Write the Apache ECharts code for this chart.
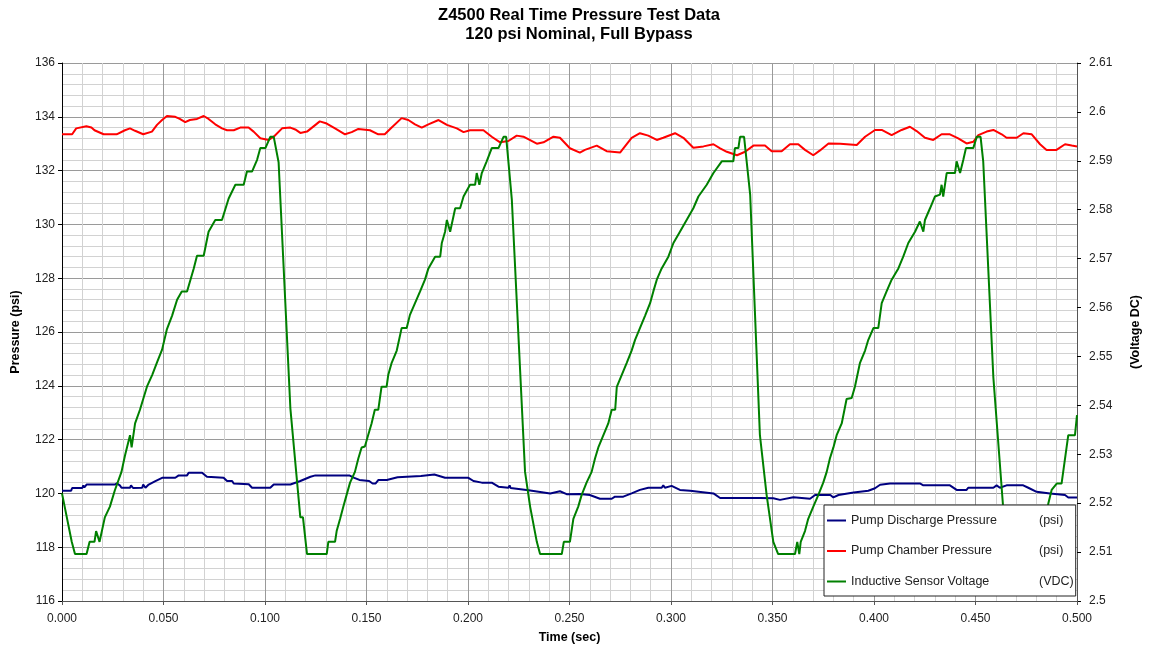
<!DOCTYPE html>
<html>
<head>
<meta charset="utf-8">
<script src="https://cdn.jsdelivr.net/npm/echarts@6/dist/echarts.min.js"></script>
<style>
html,body{margin:0;padding:0;background:#fff;}
#chart{width:1149px;height:646px;}
</style>
</head>
<body>
<div id="chart"></div>
<script>
// ---- Data ----
const seriesNames = ['Pump Discharge Pressure', 'Pump Chamber Pressure', 'Inductive Sensor Voltage'];
const seriesUnits = ['(psi)', '(psi)', '(VDC)'];
const xTickLabels = ['0.000','0.050','0.100','0.150','0.200','0.250','0.300','0.350','0.400','0.450','0.500'];

// Pump Discharge Pressure (psi)
const dischargeTime = [0,0.0045,0.005,0.0100,0.0105,0.011,0.0121,0.026,0.027,0.0285,0.0293,0.0335,0.034,0.035,0.0395,0.040,0.0411,0.0427,0.046,0.0493,0.0558,0.0575,0.0616,0.0624,0.069,0.0714,0.0796,0.0813,0.0838,0.0846,0.092,0.0936,0.1026,0.1043,0.1125,0.1174,0.1224,0.1248,0.1415,0.144,0.1465,0.1513,0.153,0.1545,0.1559,0.16,0.1653,0.1768,0.1834,0.1887,0.2002,0.2027,0.2068,0.2117,0.215,0.2199,0.2205,0.221,0.2298,0.2405,0.2453,0.2486,0.255,0.26,0.265,0.2708,0.2724,0.2765,0.2806,0.2847,0.2888,0.2954,0.2962,0.297,0.3003,0.3044,0.3094,0.3209,0.3242,0.3438,0.3504,0.3537,0.3603,0.3685,0.371,0.3785,0.38,0.3825,0.39,0.3972,0.4005,0.403,0.4079,0.4226,0.4243,0.4374,0.4407,0.4456,0.4464,0.4588,0.4604,0.4620,0.4653,0.4735,0.476,0.4801,0.4867,0.4941,0.4957,0.5];
const dischargePsi = [120.1,120.1,120.2,120.2,120.3,120.22,120.33,120.33,120.37,120.3,120.21,120.21,120.3,120.2,120.21,120.33,120.21,120.33,120.46,120.58,120.58,120.67,120.67,120.77,120.77,120.62,120.58,120.46,120.46,120.37,120.34,120.21,120.21,120.33,120.33,120.46,120.62,120.67,120.67,120.58,120.5,120.46,120.37,120.37,120.5,120.5,120.6,120.65,120.7,120.58,120.58,120.46,120.4,120.4,120.25,120.21,120.3,120.2,120.12,120.0,120.08,119.97,119.98,119.94,119.8,119.8,119.88,119.88,120.0,120.13,120.21,120.21,120.3,120.21,120.28,120.13,120.1,120.0,119.83,119.83,119.82,119.76,119.86,119.8,119.94,119.94,119.85,119.94,120.03,120.1,120.19,120.32,120.37,120.37,120.3,120.3,120.13,120.13,120.21,120.21,120.3,120.21,120.3,120.3,120.21,120.06,120.0,119.94,119.85,119.85];

// Pump Chamber Pressure (psi)
const chamberTime = [0,0.005,0.007,0.012,0.0145,0.016,0.0205,0.0269,0.031,0.0335,0.036,0.04,0.0443,0.0468,0.0493,0.0517,0.0558,0.058,0.0607,0.063,0.0665,0.0698,0.0722,0.0755,0.0788,0.0813,0.0846,0.0878,0.0919,0.0944,0.0977,0.1018,0.1043,0.1084,0.1125,0.1149,0.1174,0.1207,0.127,0.1304,0.1345,0.1394,0.1427,0.146,0.1517,0.1558,0.159,0.1624,0.1673,0.1706,0.1739,0.1772,0.1805,0.1855,0.1896,0.1945,0.1978,0.201,0.2076,0.2117,0.2158,0.2199,0.224,0.2273,0.2339,0.2372,0.2421,0.2453,0.2502,0.2551,0.2576,0.2634,0.2683,0.2749,0.2806,0.2847,0.2888,0.293,0.2962,0.302,0.3061,0.311,0.316,0.3209,0.3242,0.3275,0.3325,0.3365,0.3406,0.3463,0.3496,0.3545,0.3586,0.3627,0.366,0.3701,0.3734,0.3776,0.3833,0.3915,0.3956,0.4005,0.4038,0.4087,0.4136,0.4177,0.421,0.4251,0.4292,0.4333,0.4374,0.4415,0.4456,0.4489,0.4514,0.4555,0.4588,0.4629,0.4653,0.4703,0.4736,0.4777,0.4818,0.485,0.4899,0.4941,0.4974,0.5];
const chamberPsi = [133.35,133.35,133.57,133.65,133.6,133.5,133.35,133.35,133.5,133.57,133.48,133.35,133.45,133.7,133.88,134.03,134.0,133.92,133.8,133.88,133.92,134.03,133.92,133.72,133.57,133.5,133.5,133.6,133.6,133.45,133.2,133.14,133.26,133.57,133.6,133.53,133.4,133.45,133.83,133.75,133.57,133.35,133.43,133.55,133.5,133.35,133.35,133.6,133.95,133.88,133.72,133.6,133.72,133.88,133.7,133.57,133.43,133.5,133.5,133.26,133.05,133.1,133.3,133.26,133.0,133.05,133.26,133.22,132.83,132.67,132.77,132.93,132.72,132.67,133.22,133.39,133.3,133.14,133.22,133.39,133.22,132.85,132.9,132.98,132.83,132.7,132.57,132.7,132.93,132.93,132.72,132.72,132.98,132.98,132.77,132.57,132.75,133.01,133.0,132.95,133.26,133.51,133.51,133.32,133.51,133.63,133.47,133.22,133.14,133.35,133.35,133.2,133.01,133.07,133.32,133.45,133.51,133.35,133.22,133.22,133.39,133.35,132.98,132.77,132.77,132.98,132.93,132.9];

// Inductive Sensor Voltage (VDC)
const sensorTime = [0,0.0048,0.0064,0.0121,0.0136,0.016,0.0168,0.0185,0.0211,0.0236,0.026,0.0293,0.031,0.0335,0.0343,0.036,0.0384,0.040,0.042,0.0444,0.047,0.0493,0.0517,0.0542,0.0567,0.059,0.0616,0.0649,0.0665,0.0698,0.0722,0.0755,0.0788,0.0821,0.0854,0.0895,0.0911,0.0936,0.0961,0.0977,0.1002,0.1026,0.1043,0.1067,0.1125,0.1174,0.1187,0.1207,0.1304,
 0.1312,0.1345,0.1353,0.137,0.1386,0.1402,0.1419,0.1443,0.146,0.1476,0.1492,0.1508,0.1525,0.1541,0.1558,0.1574,0.1599,0.1607,0.1624,0.1649,0.1673,0.1698,0.1714,0.1739,0.1764,0.1788,0.1805,0.1838,0.1863,0.1871,0.1887,0.1896,0.1912,0.1937,0.1961,0.1978,0.201,0.2035,0.2043,0.2056,0.2068,0.2092,0.2117,0.215,0.2175,0.2188,0.2216,0.2281,0.2306,0.2339,0.2355,0.2462,0.2472,
 0.2502,0.2519,0.2543,0.256,0.2584,0.2609,0.2626,0.2642,0.2667,0.2691,0.2708,0.2725,0.2733,0.2757,0.2782,0.2806,0.2823,0.2847,0.2872,0.2897,0.2913,0.293,0.2954,0.2987,0.3012,0.3044,0.3077,0.311,0.3135,0.3176,0.3209,0.325,0.3307,0.3315,0.3332,0.334,0.336,0.339,0.3438,0.3471,0.3504,0.3528,0.3611,0.3622,0.3632,0.3639,0.366,0.3676,0.3701,0.3726,
 0.375,0.3767,0.3783,0.38,0.3816,0.3841,0.3865,0.389,0.3906,0.3931,0.3956,0.3972,0.3997,0.4021,0.4038,0.4062,0.4087,0.412,0.4144,0.4169,0.4202,0.4226,0.4243,0.4251,0.4276,0.43,0.4325,0.4333,0.4341,0.4358,0.4399,0.4407,0.4424,0.444,0.4453,0.4489,0.4506,0.4525,0.4538,0.4588,0.4637,0.4665,0.4815,0.483,0.4859,0.4875,0.49,0.4924,0.4957,0.499,0.5];
const sensorVdc = [2.522,2.5121,2.5096,2.5096,2.5121,2.5121,2.5143,2.5121,2.5171,2.5193,2.5226,2.5264,2.5297,2.5339,2.5314,2.5363,2.5391,2.5413,2.544,2.5462,2.549,2.5514,2.5556,2.5583,2.5616,2.5633,2.5633,2.568,2.5706,2.5706,2.5755,2.5779,2.5779,2.5823,2.5851,2.5851,2.5878,2.5878,2.5902,2.5926,2.5926,2.5949,2.5949,2.5897,2.5394,2.5171,2.5171,2.5096,2.5096,
 2.5121,2.5121,2.5143,2.5168,2.5193,2.5217,2.5242,2.5264,2.5292,2.5314,2.5316,2.5339,2.5363,2.5391,2.5391,2.5438,2.5438,2.5462,2.5487,2.5512,2.5558,2.5558,2.5585,2.5609,2.5633,2.5657,2.568,2.5704,2.5704,2.5732,2.5755,2.5779,2.5755,2.5803,2.5803,2.5827,2.5851,2.5851,2.5875,2.5851,2.5875,2.5899,2.5926,2.5926,2.5949,2.5949,2.582,2.5264,2.5193,2.5121,2.5096,2.5096,2.5121,
 2.5121,2.5168,2.5193,2.5217,2.5242,2.5264,2.5292,2.5314,2.5339,2.5363,2.5391,2.5391,2.5438,2.5462,2.5487,2.5512,2.5534,2.5558,2.5583,2.5609,2.5633,2.5657,2.568,2.5704,2.5732,2.5755,2.5779,2.5803,2.5827,2.5851,2.5875,2.5899,2.5899,2.5926,2.5926,2.5949,2.5949,2.5831,2.5339,2.5217,2.5121,2.5096,2.5096,2.5121,2.5096,2.5121,2.5143,2.5168,2.5193,2.5217,
 2.5242,2.5264,2.5292,2.5314,2.5339,2.5363,2.5413,2.5415,2.5438,2.5487,2.5512,2.5534,2.5558,2.5558,2.5609,2.5633,2.5657,2.568,2.5704,2.5732,2.5755,2.5776,2.5755,2.5779,2.5803,2.5827,2.5831,2.5851,2.5827,2.5875,2.5875,2.5899,2.5875,2.5902,2.5926,2.5926,2.5949,2.5949,2.5899,2.5457,2.5187,2.5096,2.5096,2.5121,2.52,2.5227,2.524,2.524,2.5339,2.5339,2.538];

// ---- Chart ----
const FONT = "'Liberation Sans', Arial, sans-serif";
const pairs = (xs, ys) => xs.map((x, i) => [x, ys[i]]);
const chart = echarts.init(document.getElementById('chart'), null, {renderer: 'canvas'});

chart.setOption({
  animation: false,
  backgroundColor: '#ffffff',
  title: {
    text: 'Z4500 Real Time Pressure Test Data\n120 psi Nominal, Full Bypass',
    left: 574, top: 1, textAlign: 'center',
    textStyle: {fontFamily: FONT, fontSize: 16.5, fontWeight: 'bold', color: '#000', lineHeight: 19}
  },
  grid: {left: 62, right: 72, top: 63, bottom: 45, containLabel: false, outerBoundsMode: 'none'},
  legend: {
    orient: 'vertical', left: 824, top: 505,
    padding: [9, 2, 8, 3],
    icon: 'rect',
    itemWidth: 19, itemHeight: 2, itemGap: 17.5,
    backgroundColor: '#ffffff', borderColor: '#222', borderWidth: 1,
    data: seriesNames,
    formatter: function (name) {
      const i = seriesNames.indexOf(name);
      return '{n|' + name + '}{u|' + seriesUnits[i] + '}';
    },
    textStyle: {
      fontFamily: FONT, fontSize: 12.5, color: '#222',
      rich: {
        n: {width: 188, fontFamily: FONT, fontSize: 12.5, color: '#222', lineHeight: 13},
        u: {width: 30, fontFamily: FONT, fontSize: 12.5, color: '#222', lineHeight: 13}
      }
    }
  },
  xAxis: {
    type: 'value', min: 0, max: 0.5, interval: 0.05,
    name: 'Time (sec)', nameLocation: 'middle', nameGap: 30,
    nameTextStyle: {fontFamily: FONT, fontSize: 12.5, fontWeight: 'bold', color: '#000'},
    axisLine: {show: true, onZero: false, lineStyle: {color: '#555', width: 1}},
    axisTick: {show: true, length: 4, lineStyle: {color: '#555'}},
    axisLabel: {
      fontFamily: FONT, fontSize: 12, color: '#222', margin: 12,
      formatter: function (v) { return xTickLabels[Math.round(v / 0.05)]; }
    },
    splitLine: {show: true, lineStyle: {color: '#9a9a9a', width: 1}},
    minorTick: {show: false, splitNumber: 5},
    minorSplitLine: {show: true, lineStyle: {color: '#d2d2d2', width: 1}}
  },
  yAxis: [
    {
      type: 'value', min: 116, max: 136, interval: 2, position: 'left',
      name: 'Pressure (psi)', nameLocation: 'middle', nameGap: 40,
      nameTextStyle: {fontFamily: FONT, fontSize: 12.5, fontWeight: 'bold', color: '#000'},
      axisLine: {show: true, lineStyle: {color: '#000', width: 1}},
      axisTick: {show: true, length: 4, lineStyle: {color: '#000'}},
      axisLabel: {fontFamily: FONT, fontSize: 12, color: '#222', margin: 7},
      splitLine: {show: true, lineStyle: {color: '#9a9a9a', width: 1}},
      minorTick: {show: false, splitNumber: 5},
      minorSplitLine: {show: true, lineStyle: {color: '#d2d2d2', width: 1}}
    },
    {
      type: 'value', min: 2.5, max: 2.61, interval: 0.01, position: 'right',
      name: '(Voltage DC)', nameLocation: 'middle', nameGap: 52,
      nameTextStyle: {fontFamily: FONT, fontSize: 12.5, fontWeight: 'bold', color: '#000'},
      axisLine: {show: true, lineStyle: {color: '#555', width: 1}},
      axisTick: {show: true, length: 4, lineStyle: {color: '#000'}},
      axisLabel: {
        fontFamily: FONT, fontSize: 12, color: '#222', margin: 12,
        formatter: function (v) { return String(parseFloat(v.toFixed(2))); }
      },
      splitLine: {show: false}
    }
  ],
  series: [
    {
      name: seriesNames[0], type: 'line', yAxisIndex: 0, symbol: 'none',
      data: pairs(dischargeTime, dischargePsi),
      lineStyle: {color: '#000080', width: 2}, itemStyle: {color: '#000080'}, z: 3
    },
    {
      name: seriesNames[1], type: 'line', yAxisIndex: 0, symbol: 'none',
      data: pairs(chamberTime, chamberPsi),
      lineStyle: {color: '#ff0000', width: 2}, itemStyle: {color: '#ff0000'}, z: 3
    },
    {
      name: seriesNames[2], type: 'line', yAxisIndex: 1, symbol: 'none',
      data: pairs(sensorTime, sensorVdc),
      lineStyle: {color: '#008000', width: 2}, itemStyle: {color: '#008000'}, z: 3
    }
  ]
});
</script>
</body>
</html>
